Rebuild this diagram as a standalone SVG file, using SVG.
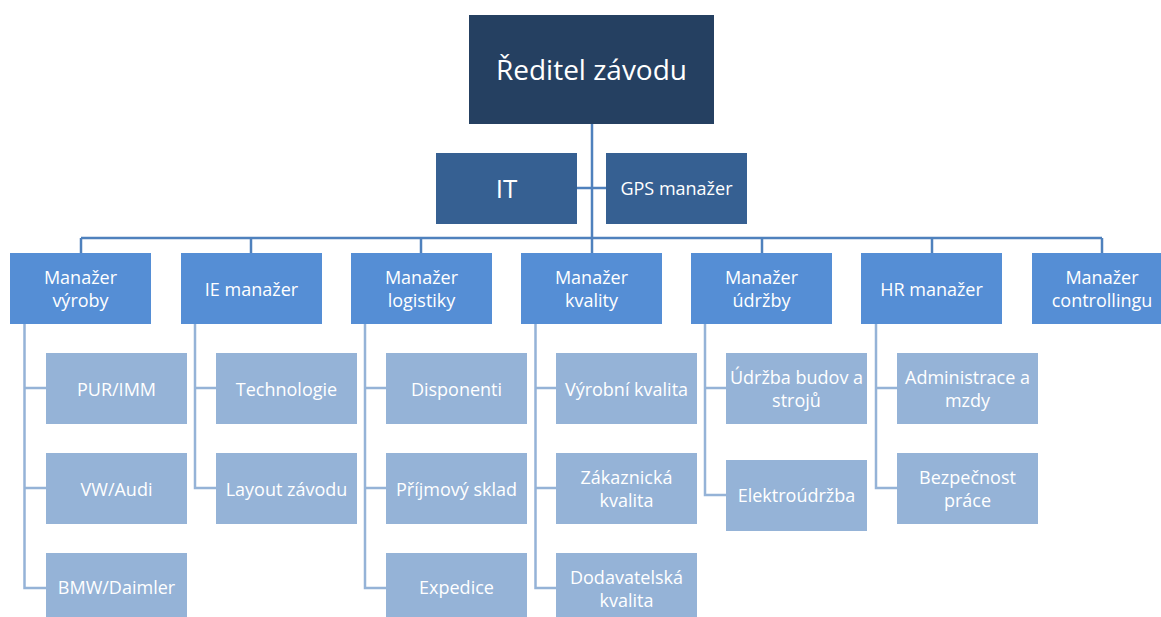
<svg xmlns="http://www.w3.org/2000/svg" width="1161" height="617" viewBox="0 0 1161 617">
<style>
text{font-family:"Open Sans","Noto Sans","DejaVu Sans",sans-serif;fill:#fff;text-anchor:middle;dominant-baseline:central}
.top rect{fill:#254061}
.mid rect{fill:#366092}
.l1 rect{fill:#558ED5}
.l2 rect{fill:#95B3D7}
.l1 text,.l2 text{font-size:18px}
.bus{stroke:#4F81BD;stroke-width:2.5;fill:none}
.sub{stroke:#95B3D7;stroke-width:2.5;fill:none}
</style>
<rect width="1161" height="617" fill="#fff"/>
<g id="connectors">
<path class="bus" d="M592 124V238M577 188H606M81 238H1102M81 238V253M251 238V253M421 238V253M592 238V253M762 238V253M932 238V253M1102 238V253"/>
<path class="sub" d="M24.5 324V588H46M24.5 388H46M24.5 488H46"/>
<path class="sub" d="M195 324V488H216M195 388H216"/>
<path class="sub" d="M365 324V588H386M365 388H386M365 488H386"/>
<path class="sub" d="M535.5 324V588H556M535.5 388H556M535.5 488H556"/>
<path class="sub" d="M705 324V495H726M705 388H726"/>
<path class="sub" d="M876 324V488H897M876 388H897"/>
</g>
<g id="reditel" class="top"><rect x="469" y="15" width="245" height="109"/><text x="591.5" y="69" style="font-size:28px">Ředitel závodu</text></g>
<g id="it" class="mid"><rect x="436" y="153" width="141" height="71"/><text x="506.5" y="188" style="font-size:26px">IT</text></g>
<g id="gps" class="mid"><rect x="606" y="153" width="141" height="71"/><text x="676.5" y="188" style="font-size:18px">GPS manažer</text></g>

<g id="vyroba" class="l1"><rect x="10" y="253" width="141" height="71"/><text x="80.5" y="277">Manažer</text><text x="80.5" y="300">výroby</text></g>
<g id="ie" class="l1"><rect x="181" y="253" width="141" height="71"/><text x="251.5" y="288.5">IE manažer</text></g>
<g id="logistika" class="l1"><rect x="351" y="253" width="141" height="71"/><text x="421.5" y="277">Manažer</text><text x="421.5" y="300">logistiky</text></g>
<g id="kvalita" class="l1"><rect x="521" y="253" width="141" height="71"/><text x="591.5" y="277">Manažer</text><text x="591.5" y="300">kvality</text></g>
<g id="udrzba" class="l1"><rect x="691" y="253" width="141" height="71"/><text x="761.5" y="277">Manažer</text><text x="761.5" y="300">údržby</text></g>
<g id="hr" class="l1"><rect x="861" y="253" width="141" height="71"/><text x="931.5" y="288.5">HR manažer</text></g>
<g id="controlling" class="l1"><rect x="1032" y="253" width="141" height="71"/><text x="1102" y="277">Manažer</text><text x="1102" y="300">controllingu</text></g>

<g id="pur" class="l2"><rect x="46" y="353" width="141" height="71"/><text x="116.5" y="388.5">PUR/IMM</text></g>
<g id="vw" class="l2"><rect x="46" y="453" width="141" height="71"/><text x="116.5" y="488.5">VW/Audi</text></g>
<g id="bmw" class="l2"><rect x="46" y="553" width="141" height="71"/><text x="116.5" y="587">BMW/Daimler</text></g>

<g id="technologie" class="l2"><rect x="216" y="353" width="141" height="71"/><text x="286.5" y="388.5">Technologie</text></g>
<g id="layout" class="l2"><rect x="216" y="453" width="141" height="71"/><text x="286.5" y="488.5">Layout závodu</text></g>

<g id="disponenti" class="l2"><rect x="386" y="353" width="141" height="71"/><text x="456.5" y="388.5">Disponenti</text></g>
<g id="prijem" class="l2"><rect x="386" y="453" width="141" height="71"/><text x="456.5" y="488.5">Příjmový sklad</text></g>
<g id="expedice" class="l2"><rect x="386" y="553" width="141" height="71"/><text x="456.5" y="587">Expedice</text></g>

<g id="vyrobni" class="l2"><rect x="556" y="353" width="141" height="71"/><text x="626.5" y="388.5">Výrobní kvalita</text></g>
<g id="zakaznicka" class="l2"><rect x="556" y="453" width="141" height="71"/><text x="626.5" y="477">Zákaznická</text><text x="626.5" y="499.5">kvalita</text></g>
<g id="dodavatelska" class="l2"><rect x="556" y="553" width="141" height="71"/><text x="626.5" y="577">Dodavatelská</text><text x="626.5" y="599.5">kvalita</text></g>

<g id="budovy" class="l2"><rect x="726" y="353" width="141" height="71"/><text x="796.5" y="377">Údržba budov a</text><text x="796.5" y="399.5">strojů</text></g>
<g id="elektro" class="l2"><rect x="726" y="460" width="141" height="71"/><text x="796.5" y="495">Elektroúdržba</text></g>

<g id="administrace" class="l2"><rect x="897" y="353" width="141" height="71"/><text x="967.5" y="377">Administrace a</text><text x="967.5" y="399.5">mzdy</text></g>
<g id="bezpecnost" class="l2"><rect x="897" y="453" width="141" height="71"/><text x="967.5" y="477">Bezpečnost</text><text x="967.5" y="499.5">práce</text></g>
</svg>
